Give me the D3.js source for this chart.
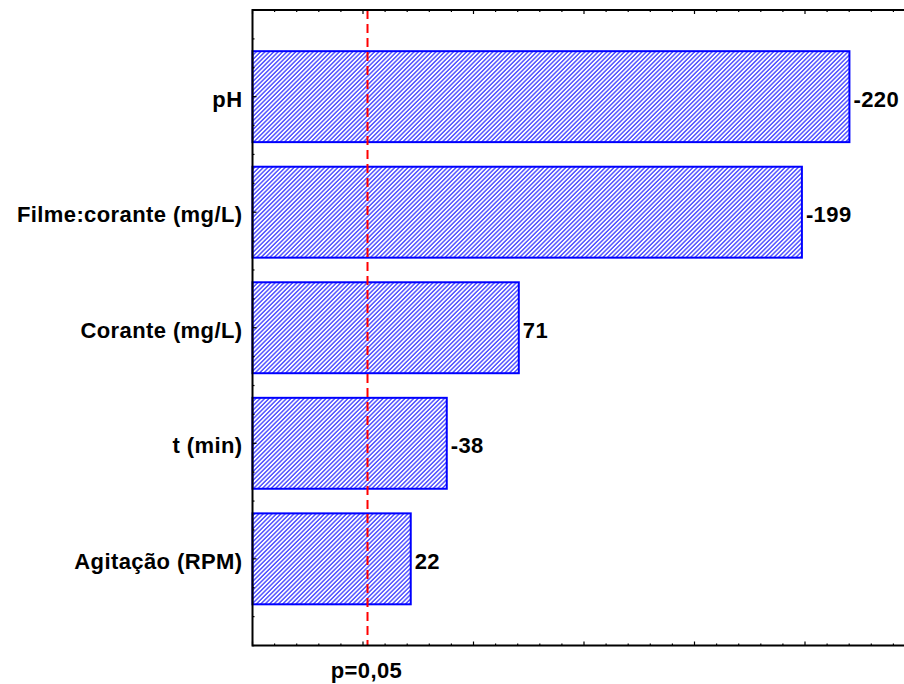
<!DOCTYPE html>
<html><head><meta charset="utf-8">
<script src="https://cdn.jsdelivr.net/npm/d3@7"></script>
<style>body{margin:0;background:#fff}svg{display:block}</style>
</head><body>
<script>
const categories = ["pH", "Filme:corante (mg/L)", "Corante (mg/L)", "t (min)", "Agitação (RPM)"];
const effects = [-220.1, -198.6, 70.5, -37.9, 21.6];
const pCritical = 2.04;
const pLabel = "p=0,05";
const xDomain = [-50, 250];

(function () {
const W = 904, H = 684;
const svg = d3.select("body").append("svg").attr("width", W).attr("height", H)
  .style("font-family", "'Liberation Sans', Arial, sans-serif");

const pLeft = 252.5, pRight = 915.5, pTop = 10, pBottom = 645.5;
const x = d3.scaleLinear().domain(xDomain).range([pLeft, pRight]);
const y = d3.scaleLinear().domain([-0.75, categories.length - 0.25]).range([pTop, pBottom]);
const fmt = d => String(Math.round(d));
const FS = 22, LS = "0.4px";

const defs = svg.append("defs");
const pat = defs.append("pattern").attr("id", "hatch").attr("patternUnits", "userSpaceOnUse")
  .attr("width", 3.1).attr("height", 8).attr("patternTransform", "rotate(45)");
pat.append("rect").attr("width", 3.1).attr("height", 8).attr("fill", "#ffffff");
pat.append("line").attr("x1", 0.8).attr("x2", 0.8).attr("y1", -1).attr("y2", 9)
  .attr("stroke", "#0000ff").attr("stroke-width", 1.0);

const bandPx = y(1) - y(0);
const barH = bandPx * 0.787;

svg.append("g").selectAll("rect").data(effects).join("rect")
  .attr("x", x(xDomain[0]))
  .attr("y", (d, i) => y(i) - barH / 2)
  .attr("width", d => x(Math.abs(d)) - x(xDomain[0]))
  .attr("height", barH)
  .attr("fill", "url(#hatch)")
  .attr("stroke", "#0000ff").attr("stroke-width", 2);

svg.append("g").selectAll("text").data(effects).join("text")
  .attr("x", d => x(Math.abs(d)) + 4)
  .attr("y", (d, i) => y(i))
  .attr("dy", "0.45em")
  .attr("font-size", FS).attr("font-weight", "bold").attr("letter-spacing", LS).attr("fill", "#000")
  .text(d => fmt(d));

svg.append("g").selectAll("text").data(categories).join("text")
  .attr("x", pLeft - 10)
  .attr("y", (d, i) => y(i))
  .attr("dy", "0.45em")
  .attr("text-anchor", "end")
  .attr("font-size", FS).attr("font-weight", "bold").attr("letter-spacing", LS).attr("fill", "#000")
  .text(d => d);

svg.append("line")
  .attr("x1", x(pCritical)).attr("x2", x(pCritical))
  .attr("y1", pTop).attr("y2", pBottom)
  .attr("stroke", "#ff0000").attr("stroke-width", 2).attr("stroke-dasharray", "9,5");

svg.append("text").attr("x", x(pCritical) - 1).attr("y", 678)
  .attr("text-anchor", "middle").attr("font-size", FS).attr("font-weight", "bold").attr("letter-spacing", LS)
  .text(pLabel);

const xMajor = d3.range(xDomain[0], xDomain[1] + 1, 50);
const xMinor = d3.range(xDomain[0], xDomain[1] + 1, 10);
const axisG = svg.append("g").attr("stroke", "#000");
axisG.selectAll(".bt").data(xMinor).join("line").attr("class", "bt")
  .attr("x1", d => x(d)).attr("x2", d => x(d))
  .attr("y1", pBottom).attr("y2", d => pBottom - (xMajor.includes(d) ? 4 : 2)).attr("stroke-width", 1.2);
axisG.selectAll(".tt").data(xMinor).join("line").attr("class", "tt")
  .attr("x1", d => x(d)).attr("x2", d => x(d))
  .attr("y1", pTop).attr("y2", d => pTop + (xMajor.includes(d) ? 4 : 2)).attr("stroke-width", 1.2);
const yTicks = d3.range(-0.75, categories.length - 0.25 + 0.001, 0.25);
axisG.selectAll(".lt").data(yTicks).join("line").attr("class", "lt")
  .attr("x1", pLeft).attr("x2", d => pLeft + (Number.isInteger(d) ? 4 : 2))
  .attr("y1", d => y(d)).attr("y2", d => y(d)).attr("stroke-width", 1.2);
axisG.append("line").attr("x1", pLeft).attr("x2", pRight).attr("y1", pBottom).attr("y2", pBottom).attr("stroke-width", 2);
axisG.append("line").attr("x1", pLeft).attr("x2", pRight).attr("y1", pTop).attr("y2", pTop).attr("stroke-width", 2);
axisG.append("line").attr("x1", pLeft).attr("x2", pLeft).attr("y1", pTop - 1).attr("y2", pBottom + 1).attr("stroke-width", 2);
})();
</script>
</body></html>
